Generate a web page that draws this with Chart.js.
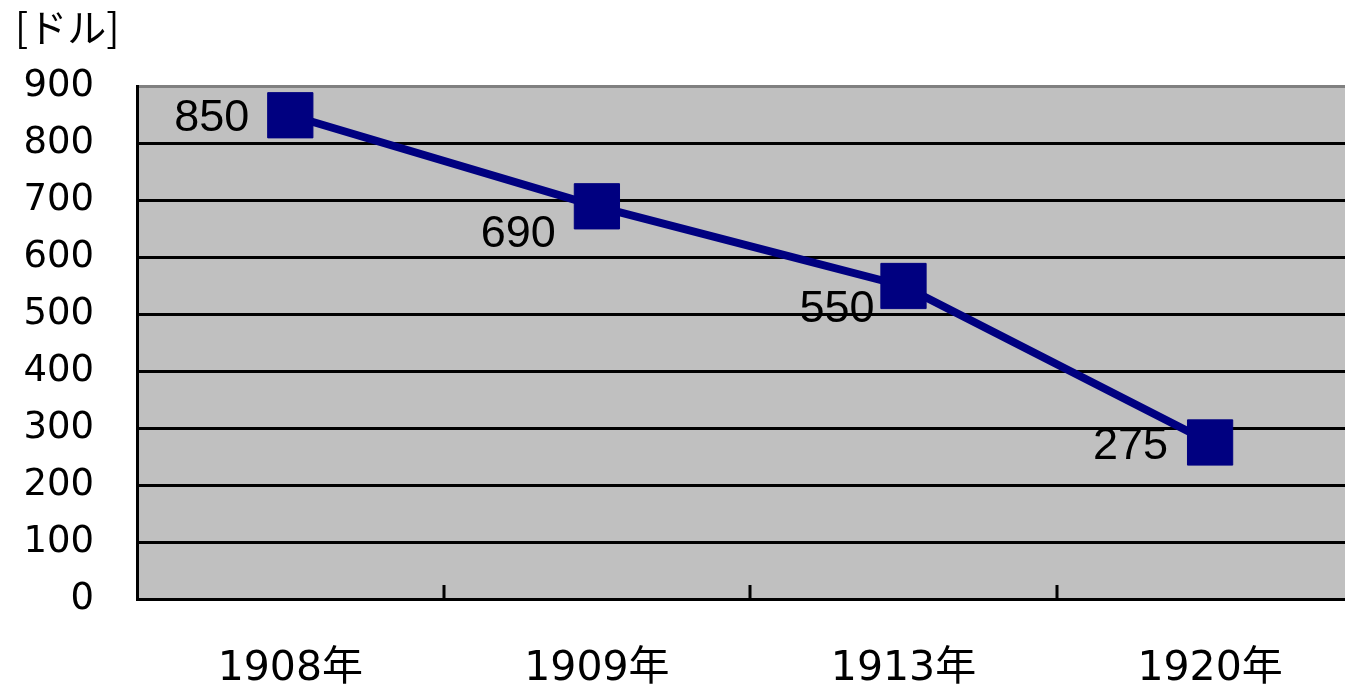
<!DOCTYPE html>
<html>
<head>
    <meta charset="utf-8">
    <title>価格の推移</title>
    <script src="https://cdn.jsdelivr.net/npm/chart.js"></script>
    <style>
        body { margin: 0; overflow: hidden; background: #fff; }
        canvas { display: block; }
    </style>
</head>
<body>
    <canvas id="priceChart" width="1345" height="687"></canvas>

    <script>
        const years = ['1908年', '1909年', '1913年', '1920年'];
        const prices = [850, 690, 550, 275];
        const yTicks = [0, 100, 200, 300, 400, 500, 600, 700, 800, 900];
        const unitLabel = '[ドル]';

        // label nudges relative to each marker (dx, dy)
        const labelNudge = [[-41, 3], [-41, 28], [-29, 24], [-42, 4]];

        // the plot runs off the right edge of the picture, so the last slot is cut short
        const xMin = -0.5;
        const xMax = 3.44;

        const plotBg = {
            id: 'plotBg',
            beforeDraw(chart) {
                const a = chart.chartArea;
                const ctx = chart.ctx;
                ctx.save();
                ctx.fillStyle = '#c0c0c0';
                ctx.fillRect(a.left, a.top, a.right - a.left, a.bottom - a.top);
                ctx.restore();
            }
        };

        const innerTicks = {
            id: 'innerTicks',
            beforeDatasetsDraw(chart) {
                const x = chart.scales.x;
                const a = chart.chartArea;
                const ctx = chart.ctx;
                ctx.save();
                ctx.strokeStyle = '#000';
                ctx.lineWidth = 3;
                for (let i = 1; i < years.length; i++) {
                    const px = Math.round(x.getPixelForValue(i - 0.5));
                    ctx.beginPath();
                    ctx.moveTo(px, a.bottom - 14);
                    ctx.lineTo(px, a.bottom);
                    ctx.stroke();
                }
                ctx.restore();
            }
        };

        const valueLabels = {
            id: 'valueLabels',
            afterDatasetsDraw(chart) {
                const meta = chart.getDatasetMeta(0);
                const ctx = chart.ctx;
                ctx.save();
                ctx.font = '45px "Liberation Sans", Arial, sans-serif';
                ctx.fillStyle = '#000';
                ctx.textAlign = 'right';
                ctx.textBaseline = 'middle';
                meta.data.forEach((pt, i) => {
                    const n = labelNudge[i];
                    ctx.fillText(String(prices[i]), pt.x + n[0], pt.y + n[1]);
                });
                ctx.restore();
            }
        };

        const ctx = document.getElementById('priceChart').getContext('2d');
        const priceChart = new Chart(ctx, {
            type: 'line',
            data: {
                datasets: [{
                    data: prices.map((v, i) => ({ x: i, y: v })),
                    borderColor: '#000080',
                    borderWidth: 8,
                    tension: 0,
                    fill: false,
                    clip: false,
                    pointStyle: 'rect',
                    pointRadius: 32,
                    pointHoverRadius: 32,
                    pointBackgroundColor: '#000080',
                    pointBorderColor: '#000080',
                    pointBorderWidth: 1
                }]
            },
            options: {
                responsive: false,
                devicePixelRatio: 1,
                animation: false,
                layout: { autoPadding: false, padding: { left: 15, right: 0, top: 0, bottom: 0 } },
                plugins: {
                    legend: { display: false },
                    tooltip: { enabled: false },
                    title: {
                        display: true,
                        text: unitLabel,
                        align: 'start',
                        color: '#000',
                        font: { family: '"Noto Sans CJK JP", sans-serif', size: 39, weight: 'normal' },
                        padding: { top: 4, bottom: 36 }
                    }
                },
                scales: {
                    x: {
                        type: 'linear',
                        min: xMin,
                        max: xMax,
                        afterBuildTicks(s) { s.ticks = years.map((y, i) => ({ value: i })); },
                        grid: { display: false, drawTicks: false },
                        border: { color: '#000', width: 3 },
                        ticks: {
                            color: '#000',
                            padding: 46,
                            maxRotation: 0,
                            autoSkip: false,
                            callback: v => years[v],
                            font: { family: '"DejaVu Sans", "Noto Sans CJK JP", sans-serif', size: 41 }
                        },
                        afterFit(s) {
                            s.height = 88;
                            s.paddingLeft = 0;
                            s.paddingRight = 0;
                        }
                    },
                    y: {
                        min: 0,
                        max: 900,
                        afterBuildTicks(s) { s.ticks = yTicks.map(v => ({ value: v })); },
                        grid: {
                            drawTicks: false,
                            lineWidth: 3,
                            color: c => c.tick && c.tick.value === 900 ? '#808080' : '#000'
                        },
                        border: { color: '#000', width: 3 },
                        ticks: {
                            color: '#000',
                            padding: 43,
                            font: { family: '"DejaVu Sans", sans-serif', size: 37 }
                        },
                        afterFit(s) { s.width = 122; }
                    }
                }
            },
            plugins: [plotBg, innerTicks, valueLabels]
        });
    </script>
</body>
</html>
